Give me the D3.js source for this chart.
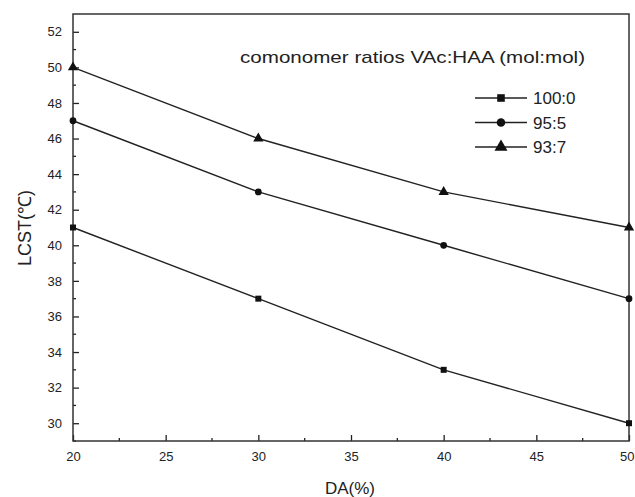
<!DOCTYPE html>
<html>
<head>
<meta charset="utf-8">
<script src="https://cdn.jsdelivr.net/npm/d3@7"></script>
<style>
  body { margin: 0; background: #fff; }
  text { font-family: "Liberation Sans", Arial, sans-serif; fill: #222; }
</style>
</head>
<body>
<div id="chart"></div>
<script>
const daValues = [20, 30, 40, 50];
const series100_0 = [41, 37, 33, 30];
const series95_5 = [47, 43, 40, 37];
const series93_7 = [50, 46, 43, 41];
const seriesNames = ["100:0", "95:5", "93:7"];
const xTicks = [20, 25, 30, 35, 40, 45, 50];
const yTicks = [30, 32, 34, 36, 38, 40, 42, 44, 46, 48, 50, 52];

const width = 635, height = 497;
const margin = { left: 73, right: 6, top: 14, bottom: 56 };

const svg = d3.select("#chart").append("svg")
  .attr("width", width)
  .attr("height", height);

const x = d3.scaleLinear().domain([20, 50]).range([margin.left, width - margin.right]);
const y = d3.scaleLinear().domain([29, 53]).range([height - margin.bottom, margin.top]);

// 坐标轴（刻度朝内）
const xAxis = d3.axisBottom(x).tickValues(xTicks).tickSizeInner(-6).tickSizeOuter(0).tickPadding(11);
const yAxis = d3.axisLeft(y).tickValues(yTicks).tickSizeInner(-6).tickSizeOuter(0).tickPadding(11);

const gx = svg.append("g").attr("transform", `translate(0,${y.range()[0]})`).call(xAxis);
const gy = svg.append("g").attr("transform", `translate(${x.range()[0]},0)`).call(yAxis);

[gx, gy].forEach(g => {
  g.select(".domain").remove();
  g.selectAll(".tick line").attr("stroke", "#222").attr("stroke-width", 1.3);
  g.selectAll(".tick text").attr("font-size", 13).attr("fill", "#333");
});

// 最右的 50 贴边，右对齐
gx.selectAll(".tick text").filter(d => d === 50)
  .attr("text-anchor", "end")
  .attr("dx", width - 1 - x(50));

// minor ticks
svg.append("g").selectAll("line")
  .data(xTicks.slice(0, -1).map(d => d + 2.5))
  .enter().append("line")
  .attr("x1", d => x(d)).attr("x2", d => x(d))
  .attr("y1", y.range()[0]).attr("y2", y.range()[0] - 3)
  .attr("stroke", "#222").attr("stroke-width", 1.3);

svg.append("g").selectAll("line")
  .data(d3.range(29, 53, 1).filter(v => v % 2 === 1))
  .enter().append("line")
  .attr("x1", x.range()[0]).attr("x2", x.range()[0] + 3)
  .attr("y1", d => y(d)).attr("y2", d => y(d))
  .attr("stroke", "#222").attr("stroke-width", 1.3);

// frame
svg.append("rect")
  .attr("x", x.range()[0])
  .attr("y", y.range()[1])
  .attr("width", x.range()[1] - x.range()[0])
  .attr("height", y.range()[0] - y.range()[1])
  .attr("fill", "none")
  .attr("stroke", "#333")
  .attr("stroke-width", 1.5);

const allSeries = [
  { name: seriesNames[0], values: series100_0, symbol: d3.symbolSquare, size: 36 },
  { name: seriesNames[1], values: series95_5, symbol: d3.symbolCircle, size: 36 },
  { name: seriesNames[2], values: series93_7, symbol: d3.symbolTriangle, size: 46 }
];

const line = d3.line().x((d, i) => x(daValues[i])).y(d => y(d));

allSeries.forEach(s => {
  svg.append("path")
    .datum(s.values)
    .attr("d", line)
    .attr("fill", "none")
    .attr("stroke", "#222")
    .attr("stroke-width", 1.4);

  svg.append("g").selectAll("path")
    .data(s.values)
    .enter().append("path")
    .attr("transform", (d, i) => `translate(${x(daValues[i])},${y(d)})`)
    .attr("d", d3.symbol().type(s.symbol).size(s.size))
    .attr("fill", "#111");
});

// legend
svg.append("text")
  .attr("x", 240)
  .attr("y", 63)
  .attr("font-size", 17)
  .attr("textLength", 345)
  .attr("lengthAdjust", "spacingAndGlyphs")
  .text("comonomer ratios VAc:HAA (mol:mol)");

allSeries.forEach((s, i) => {
  const ly = 98 + i * 24.5;
  svg.append("line")
    .attr("x1", 475).attr("x2", 527)
    .attr("y1", ly).attr("y2", ly)
    .attr("stroke", "#222").attr("stroke-width", 1.5);
  svg.append("path")
    .attr("transform", `translate(501,${ly})`)
    .attr("d", d3.symbol().type(s.symbol).size(s.size * 1.6))
    .attr("fill", "#111");
  svg.append("text")
    .attr("x", 533)
    .attr("y", ly + 6)
    .attr("font-size", 17)
    .text(s.name);
});

// axis titles
svg.append("text")
  .attr("x", 350)
  .attr("y", 494)
  .attr("text-anchor", "middle")
  .attr("font-size", 17)
  .text("DA(%)");

svg.append("text")
  .attr("transform", "translate(31,228) rotate(-90)")
  .attr("text-anchor", "middle")
  .attr("font-size", 18)
  .text("LCST(℃)");
</script>
</body>
</html>
